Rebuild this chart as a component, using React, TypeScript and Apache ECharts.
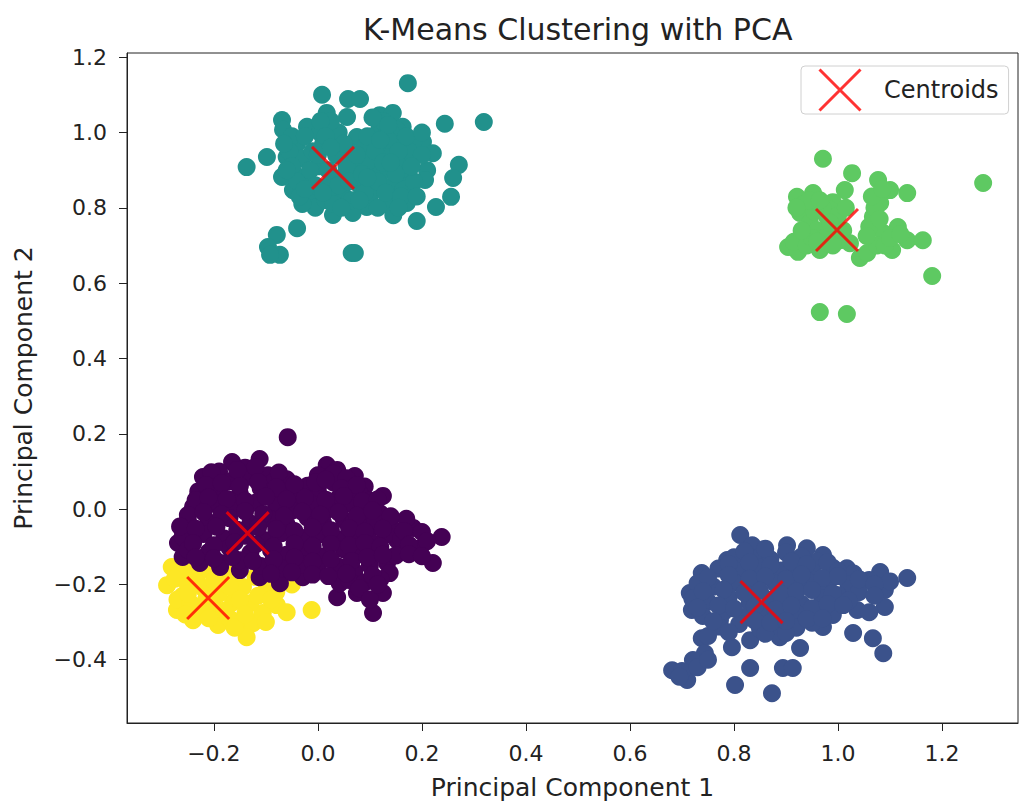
import React, { useEffect, useRef } from "react";
import * as echarts from "echarts";

// Cluster members in PCA space [PC1, PC2]
const cluster0: number[][] = [
  [-0.058, 0.191], [-0.165, 0.125], [-0.112, 0.133], [-0.221, 0.085], [-0.096, 0.09], [0.017, 0.117], [0.037, 0.104],
  [0.071, 0.088], [0.125, 0.035], [0.056, 0.037], [-0.231, 0.032], [-0.26, -0.056], [-0.269, -0.09], [0.094, -0.011],
  [0.183, -0.05], [0.238, -0.074], [0.196, -0.104], [0.221, -0.143], [0.133, -0.143], [0.138, -0.17], [0.125, -0.223],
  [0.106, -0.276], [0.075, -0.223], [0.037, -0.234], [0.042, -0.197], [-0.029, -0.181], [-0.073, -0.197], [-0.112, -0.181],
  [-0.15, -0.162], [-0.188, -0.154], [-0.227, -0.143], [-0.26, -0.127], [0.152, -0.082], [0.106, -0.048],
  [-0.19, 0.1], [-0.14, 0.11], [0.0, 0.09], [0.09, 0.06],
  [-0.2, 0.081], [-0.17, 0.074], [-0.13, 0.086], [-0.09, 0.068], [-0.06, 0.079], [-0.02, 0.062], [0.03, 0.071], [0.06, 0.058],
  [-0.23, 0.047], [-0.19, 0.052], [-0.15, 0.041], [-0.11, 0.055], [-0.07, 0.044], [-0.04, 0.036], [0.0, 0.049], [0.04, 0.03],
  [0.08, 0.042], [0.1, 0.022],
  [-0.24, 0.006], [-0.2, 0.014], [-0.16, 0.003], [-0.12, 0.017], [-0.08, 0.008], [-0.05, -0.004], [-0.01, 0.012], [0.02, 0.0],
  [0.06, 0.015], [0.09, 0.004], [0.12, -0.012],
  [-0.25, -0.028], [-0.21, -0.035], [-0.17, -0.024], [-0.13, -0.038], [-0.09, -0.027], [-0.06, -0.041], [-0.02, -0.023],
  [0.01, -0.036], [0.05, -0.029], [0.08, -0.044], [0.11, -0.031], [0.14, -0.046], [0.17, -0.026],
  [-0.26, -0.074], [-0.22, -0.066], [-0.18, -0.078], [-0.14, -0.071], [-0.1, -0.083], [-0.07, -0.064], [-0.03, -0.077],
  [0.0, -0.069], [0.04, -0.081], [0.07, -0.072], [0.1, -0.085], [0.13, -0.068], [0.16, -0.079], [0.2, -0.061],
  [-0.25, -0.108], [-0.21, -0.114], [-0.17, -0.103], [-0.13, -0.117], [-0.09, -0.109], [-0.06, -0.121], [-0.02, -0.112],
  [0.01, -0.126], [0.05, -0.107], [0.08, -0.119], [0.11, -0.104], [0.15, -0.123],
  [-0.19, -0.142], [-0.15, -0.136], [-0.11, -0.151], [-0.07, -0.158], [-0.03, -0.147], [0.0, -0.161], [0.04, -0.153],
  [0.07, -0.166], [0.1, -0.149], [0.06, -0.188], [0.09, -0.195], [0.12, -0.186],
  [-0.205, 0.098], [-0.155, 0.104], [-0.12, 0.112], [-0.075, 0.097], [0.03, 0.094], [0.055, 0.082],
  [-0.215, 0.064], [-0.185, 0.069], [-0.15, 0.061], [-0.115, 0.072], [-0.08, 0.058], [-0.045, 0.066], [-0.005, 0.071],
  [0.015, 0.078], [0.045, 0.055], [0.075, 0.064],
  [-0.235, 0.024], [-0.21, 0.031], [-0.175, 0.027], [-0.14, 0.022], [-0.1, 0.033], [-0.06, 0.026], [-0.025, 0.03],
  [0.015, 0.025], [0.05, 0.035], [0.085, 0.021], [0.115, 0.026],
  [-0.25, -0.016], [-0.22, -0.008], [-0.185, -0.014], [-0.14, -0.006], [-0.105, -0.013], [-0.065, -0.018], [-0.03, -0.007],
  [0.005, -0.015], [0.04, -0.009], [0.075, -0.018], [0.105, -0.004], [0.14, -0.019],
  [-0.265, -0.046], [-0.235, -0.052], [-0.195, -0.047], [-0.155, -0.055], [-0.115, -0.048], [-0.08, -0.053], [-0.045, -0.058],
  [-0.01, -0.049], [0.025, -0.056], [0.06, -0.051], [0.09, -0.06], [0.125, -0.052], [0.165, -0.058], [0.21, -0.085],
  [-0.24, -0.091], [-0.2, -0.096], [-0.16, -0.088], [-0.12, -0.094], [-0.085, -0.099], [-0.045, -0.092], [-0.01, -0.098],
  [0.025, -0.093], [0.06, -0.097], [0.09, -0.09], [0.12, -0.1], [0.175, -0.095],
  [-0.235, -0.128], [-0.2, -0.131], [-0.165, -0.127], [-0.125, -0.138], [-0.085, -0.133], [-0.045, -0.129], [-0.01, -0.14],
  [0.025, -0.134], [0.065, -0.138], [0.095, -0.128], [0.125, -0.121],
  [-0.09, -0.172], [-0.05, -0.168], [-0.01, -0.174], [0.02, -0.178], [0.055, -0.171], [0.105, -0.176],
  [0.08, -0.21], [0.1, -0.24], [0.115, -0.2], [0.175, -0.12], [0.2, -0.125],
];

const cluster1: number[][] = [
  [0.812, -0.069], [0.835, -0.096], [0.902, -0.096], [0.94, -0.104], [0.971, -0.122], [1.017, -0.157], [1.081, -0.167],
  [1.133, -0.183], [1.09, -0.215], [1.09, -0.26], [1.037, -0.268], [1.029, -0.329], [1.067, -0.343], [1.087, -0.383],
  [0.738, -0.17], [0.715, -0.223], [0.719, -0.268], [0.738, -0.343], [0.744, -0.383], [0.721, -0.401], [0.681, -0.428],
  [0.71, -0.454], [0.796, -0.367], [0.802, -0.467], [0.831, -0.422], [0.873, -0.489], [0.894, -0.422], [0.913, -0.422],
  [0.927, -0.369], [0.831, -0.348], [0.888, -0.34], [0.971, -0.313], [0.985, -0.268], [0.787, -0.135], [0.85, -0.127],
  [0.773, -0.295],
  [0.8, -0.128], [0.87, -0.133], [0.93, -0.126], [0.96, -0.139],
  [0.77, -0.158], [0.81, -0.166], [0.85, -0.155], [0.89, -0.163], [0.92, -0.151], [0.95, -0.168], [0.99, -0.156], [1.03, -0.171],
  [0.73, -0.197], [0.76, -0.206], [0.8, -0.194], [0.84, -0.209], [0.88, -0.198], [0.91, -0.205], [0.94, -0.191], [0.98, -0.207],
  [1.02, -0.199], [1.06, -0.188], [1.1, -0.192],
  [0.72, -0.238], [0.75, -0.246], [0.79, -0.233], [0.83, -0.249], [0.87, -0.241], [0.9, -0.235], [0.93, -0.252], [0.97, -0.238],
  [1.0, -0.229], [1.04, -0.221],
  [0.74, -0.284], [0.78, -0.273], [0.82, -0.287], [0.86, -0.276], [0.89, -0.291], [0.92, -0.278], [0.96, -0.286], [0.99, -0.281],
  [1.06, -0.274],
  [0.77, -0.312], [0.81, -0.305], [0.85, -0.318], [0.88, -0.309], [0.92, -0.315], [0.95, -0.302],
  [0.75, -0.337], [0.86, -0.331], [0.9, -0.329],
  [0.82, -0.112], [0.9, -0.115], [0.86, -0.105],
  [0.79, -0.146], [0.83, -0.142], [0.87, -0.149], [0.91, -0.139], [0.94, -0.147], [0.98, -0.141], [1.0, -0.165],
  [0.75, -0.182], [0.79, -0.176], [0.83, -0.185], [0.86, -0.179], [0.9, -0.186], [0.93, -0.174], [0.97, -0.183],
  [1.0, -0.178], [1.04, -0.186], [1.07, -0.2],
  [0.74, -0.218], [0.78, -0.214], [0.82, -0.222], [0.85, -0.217], [0.89, -0.226], [0.92, -0.219], [0.95, -0.215],
  [0.99, -0.224], [1.02, -0.243], [1.07, -0.23],
  [0.73, -0.262], [0.77, -0.256], [0.8, -0.264], [0.84, -0.258], [0.88, -0.267], [0.91, -0.256], [0.95, -0.263],
  [0.98, -0.252], [1.01, -0.255],
  [0.76, -0.298], [0.79, -0.327], [0.84, -0.296], [0.87, -0.301], [0.9, -0.297], [0.94, -0.292], [0.97, -0.29],
  [0.7, -0.43], [0.73, -0.42], [0.75, -0.4], [0.695, -0.445],
];

const cluster2: number[][] = [
  [0.173, 1.131], [0.244, 1.023], [0.319, 1.028], [-0.137, 0.908], [-0.098, 0.935], [0.271, 0.914], [0.26, 0.879],
  [0.256, 0.829], [0.227, 0.802], [0.19, 0.765], [-0.04, 0.746], [-0.079, 0.728], [-0.096, 0.696], [-0.073, 0.675],
  [-0.092, 0.675], [0.065, 0.68], [0.071, 0.68], [0.008, 1.1], [0.058, 1.089], [0.081, 1.089], [-0.069, 1.033],
  [-0.067, 1.007], [0.017, 1.052], [0.056, 1.041], [0.119, 1.046], [0.144, 1.052], [0.163, 1.015], [0.202, 0.975],
  [0.221, 0.945], [0.21, 0.9], [0.206, 0.874], [0.171, 0.813], [0.133, 0.813], [0.094, 0.802], [0.067, 0.786],
  [0.029, 0.781], [-0.015, 0.829], [-0.048, 0.847], [-0.069, 0.882], [-0.06, 0.935], [-0.021, 1.015], [0.004, 0.999],
  [0.075, 0.988], [0.119, 1.015], [0.152, 1.007], [0.183, 0.972],
  [-0.04, 0.97], [-0.03, 0.93], [-0.045, 0.89], [-0.02, 0.87], [-0.01, 0.95], [0.0, 0.91], [0.01, 0.97], [0.02, 0.86],
  [0.035, 0.94], [0.04, 1.0], [0.045, 0.88], [0.05, 0.83], [0.06, 0.95], [0.07, 0.91], [0.08, 0.86], [0.09, 0.96],
  [0.1, 0.92], [0.105, 0.99], [0.11, 0.85], [0.12, 0.89], [0.13, 0.95], [0.14, 1.0], [0.145, 0.86], [0.155, 0.92],
  [0.16, 0.97], [0.17, 0.88], [0.18, 0.84], [0.175, 0.95], [-0.005, 0.8], [0.015, 0.82], [0.03, 0.84], [-0.03, 0.81],
  [0.1, 0.83], [0.125, 1.03], [-0.05, 0.99], [0.025, 1.03], [0.165, 0.85], [0.145, 0.78], [0.115, 0.8],
  [-0.055, 0.95], [-0.05, 0.91], [-0.04, 0.87], [-0.035, 0.83], [-0.025, 0.99], [-0.015, 0.9], [-0.005, 0.86], [0.0, 0.94],
  [0.005, 1.03], [0.015, 0.99], [0.02, 0.9], [0.03, 0.81], [0.04, 0.86], [0.05, 0.97], [0.055, 0.91], [0.06, 0.87],
  [0.065, 0.82], [0.075, 0.94], [0.085, 0.89], [0.09, 0.84], [0.095, 0.99], [0.11, 0.95], [0.115, 0.87], [0.125, 0.92],
  [0.13, 0.84], [0.135, 0.98], [0.15, 0.89], [0.155, 0.95], [0.16, 0.83], [0.17, 0.99], [0.185, 0.87], [0.19, 0.83],
  [0.2, 0.94], [0.105, 1.04], [0.135, 1.02], [0.2, 1.0],
  [-0.065, 0.97], [-0.06, 0.9], [-0.025, 0.85], [0.01, 0.84], [0.025, 0.96], [0.045, 0.8], [0.08, 0.82], [0.095, 0.88],
  [0.14, 0.92], [0.18, 0.91], [0.155, 0.8], [0.12, 0.98],
];

const cluster3: number[][] = [
  [0.971, 0.93], [1.027, 0.892], [1.279, 0.866], [0.921, 0.829], [0.952, 0.839], [1.013, 0.847], [1.077, 0.874],
  [1.1, 0.847], [1.133, 0.839], [0.99, 0.815], [1.081, 0.813], [1.067, 0.776], [0.927, 0.786], [0.946, 0.76],
  [0.904, 0.696], [0.923, 0.683], [0.965, 0.688], [1.004, 0.714], [1.023, 0.706], [1.042, 0.667], [1.056, 0.68],
  [1.087, 0.733], [1.104, 0.688], [1.115, 0.749], [1.133, 0.714], [1.163, 0.714], [1.181, 0.619], [0.965, 0.523],
  [1.017, 0.518], [0.979, 0.776], [0.998, 0.741],
  [0.915, 0.71], [0.94, 0.7], [0.96, 0.74], [0.975, 0.72], [0.985, 0.795], [1.0, 0.78], [1.07, 0.8], [1.06, 0.75],
  [1.075, 0.7], [0.97, 0.8], [1.055, 0.725], [0.95, 0.72], [0.935, 0.81],
  [0.93, 0.74], [0.955, 0.79], [0.96, 0.71], [0.985, 0.76], [0.99, 0.7], [1.01, 0.74], [1.015, 0.8], [0.945, 0.82],
  [0.965, 0.82], [1.065, 0.83], [1.085, 0.85], [1.08, 0.77], [1.09, 0.7], [1.1, 0.72], [1.12, 0.73], [0.92, 0.8],
];

const cluster4: number[][] = [
  [-0.29, -0.202], [-0.281, -0.154], [-0.271, -0.268], [-0.24, -0.295], [-0.192, -0.308], [-0.15, -0.313],
  [-0.125, -0.303], [-0.106, -0.276], [-0.079, -0.255], [-0.06, -0.274], [-0.012, -0.268], [-0.163, -0.247],
  [-0.144, -0.207], [-0.098, -0.207], [-0.183, -0.175], [-0.233, -0.181], [-0.194, -0.143], [-0.137, -0.34],
  [-0.255, -0.16], [-0.26, -0.23], [-0.22, -0.21], [-0.2, -0.26], [-0.23, -0.27], [-0.17, -0.29], [-0.13, -0.25],
  [-0.12, -0.18], [-0.16, -0.17], [-0.21, -0.16], [-0.08, -0.22], [-0.05, -0.2],
  [-0.275, -0.185], [-0.25, -0.2], [-0.27, -0.24], [-0.245, -0.25], [-0.215, -0.24], [-0.19, -0.225], [-0.17, -0.205],
  [-0.15, -0.24], [-0.18, -0.27], [-0.21, -0.29], [-0.255, -0.28], [-0.16, -0.315], [-0.115, -0.23], [-0.09, -0.24],
  [-0.23, -0.155], [-0.2, -0.19], [-0.25, -0.225], [-0.14, -0.28], [-0.1, -0.3],
];

const centroids: number[][] = [
  [-0.135, -0.064], [0.853, -0.247], [0.029, 0.906], [0.998, 0.741], [-0.211, -0.236],
];

const clusters = [cluster0, cluster1, cluster2, cluster3, cluster4];
const clusterColors = ["#440154", "#3b528b", "#21918c", "#5ec962", "#fde725"];
// yellow sits underneath the purple group where they meet
const drawOrder = [4, 1, 2, 3, 0];
const xTicks = [-0.2, 0.0, 0.2, 0.4, 0.6, 0.8, 1.0, 1.2];
const yTicks = [-0.4, -0.2, 0.0, 0.2, 0.4, 0.6, 0.8, 1.0, 1.2];

const FONT = "DejaVu Sans";
const INK = "#222222";
const crossPath = "path://M0,0L10,10M10,0L0,10";
const fmt = (v: number) => (v < 0 ? "\u2212" : "") + Math.abs(v).toFixed(1);

export default function App() {
  const ref = useRef<HTMLDivElement>(null);

  useEffect(() => {
    if (!ref.current) return;
    const chart = echarts.init(ref.current, null, { renderer: "svg" });

    const clusterSeries = drawOrder.map((idx) => ({
      type: "scatter",
      name: "cluster" + idx,
      data: clusters[idx],
      symbol: "circle",
      symbolSize: 18,
      itemStyle: { color: clusterColors[idx], opacity: 1 },
      z: 2,
    }));

    chart.setOption({
      animation: false,
      backgroundColor: "#ffffff",
      textStyle: { fontFamily: FONT },
      title: {
        text: "K-Means Clustering with PCA",
        left: 358,
        top: 9,
        textStyle: { fontFamily: FONT, fontSize: 30, fontWeight: "normal", color: INK },
      },
      legend: {
        data: [
          {
            name: "Centroids",
            icon: crossPath,
            itemStyle: { color: "none", borderColor: "#ff0000", borderWidth: 3 },
          },
        ],
        left: 801,
        top: 66,
        orient: "horizontal",
        itemWidth: 42,
        itemHeight: 41,
        padding: [1, 10, 1, 16],
        borderColor: "#d0d0d0",
        borderWidth: 1,
        borderRadius: 4,
        textStyle: { fontFamily: FONT, fontSize: 24, color: INK, padding: [0, 0, 0, 18] },
      },
      grid: {
        left: 127,
        right: 6,
        top: 53,
        bottom: 82,
        show: true,
        borderColor: INK,
        borderWidth: 1,
        backgroundColor: "transparent",
      },
      xAxis: {
        type: "value",
        min: -0.367,
        max: 1.346,
        name: "Principal Component 1",
        nameLocation: "middle",
        nameGap: 52,
        nameTextStyle: { fontFamily: FONT, fontSize: 25, color: INK },
        axisLine: { show: true, onZero: false, lineStyle: { color: INK } },
        axisTick: { show: true, length: 8, customValues: xTicks, lineStyle: { color: INK } },
        axisLabel: { customValues: xTicks, formatter: fmt, margin: 19, fontFamily: FONT, fontSize: 22, color: INK },
        splitLine: { show: false },
      },
      yAxis: {
        type: "value",
        min: -0.568,
        max: 1.211,
        name: "Principal Component 2",
        nameLocation: "middle",
        nameGap: 91,
        nameRotate: 90,
        nameTextStyle: { fontFamily: FONT, fontSize: 25, color: INK },
        axisLine: { show: true, onZero: false, lineStyle: { color: INK } },
        axisTick: { show: true, length: 8, customValues: yTicks, lineStyle: { color: INK } },
        axisLabel: { customValues: yTicks, formatter: fmt, margin: 20, fontFamily: FONT, fontSize: 22, color: INK },
        splitLine: { show: false },
      },
      series: [
        ...clusterSeries,
        {
          type: "scatter",
          name: "Centroids",
          data: centroids,
          symbol: crossPath,
          symbolSize: 42,
          itemStyle: { color: "none", borderColor: "#ff0000", borderWidth: 3 },
          z: 5,
        },
      ],
    });

    return () => chart.dispose();
  }, []);

  return (
    <div
      ref={ref}
      style={{ position: "absolute", left: 0, top: 0, width: 1024, height: 805 }}
    />
  );
}
